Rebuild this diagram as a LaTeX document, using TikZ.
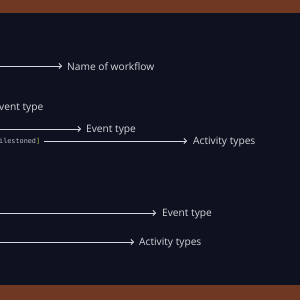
\documentclass[tikz,border=0pt]{standalone}
\usepackage{fontspec}
\setmainfont{Open Sans}
\setmonofont{DejaVu Sans Mono}
\usetikzlibrary{arrows.meta}
\definecolor{bgdark}{HTML}{0E1120}
\definecolor{frame}{HTML}{6E3822}
\definecolor{ink}{HTML}{D6D7DB}
\definecolor{codegray}{HTML}{B8BAC0}
\definecolor{codegreen}{HTML}{A8C050}
\begin{document}
\begin{tikzpicture}[x=1pt,y=-1pt,
  every node/.style={font=\fontsize{10.2}{12}\selectfont,text=ink,inner sep=0pt},
  pointer/.style={draw=ink,line width=0.8pt,-{Straight Barb[length=2.6pt,width=5.5pt]}},
  code/.style={font=\ttfamily\fontsize{6.8}{8}\selectfont,text=codegray}]
\useasboundingbox (0,0) rectangle (300,300);
\fill[bgdark] (0,0) rectangle (300,300);
\fill[frame] (0,0) rectangle (300,13);
\fill[frame] (0,285) rectangle (300,300);
% workflow name
\coordinate (s1) at (0,66);
\node[anchor=west] (name) at (67,67) {Name of workflow};
\draw[pointer] (s1) -- ([xshift=-5pt,yshift=1pt]name.west);
% event / activity types
\node[anchor=west] (evcut) at (-1,108.5) {vent type};
\coordinate (s2) at (0,129);
\node[anchor=west] (ev1) at (86,130) {Event type};
\draw[pointer] (s2) -- ([xshift=-5pt,yshift=1pt]ev1.west);
\node[code,anchor=west] (mile) at (-1,141) {ilestoned\textcolor{codegreen}{]}};
\node[anchor=west] (act1) at (193,142) {Activity types};
\draw[pointer] ([xshift=4pt]mile.east) -- ([xshift=-6pt,yshift=1pt]act1.west);
% lower block
\coordinate (s3) at (0,213);
\node[anchor=west] (ev2) at (162,214) {Event type};
\draw[pointer] (s3) -- ([xshift=-6pt,yshift=1pt]ev2.west);
\coordinate (s4) at (0,242);
\node[anchor=west] (act2) at (139,243) {Activity types};
\draw[pointer] (s4) -- ([xshift=-5pt,yshift=1pt]act2.west);
\end{tikzpicture}
\end{document}
